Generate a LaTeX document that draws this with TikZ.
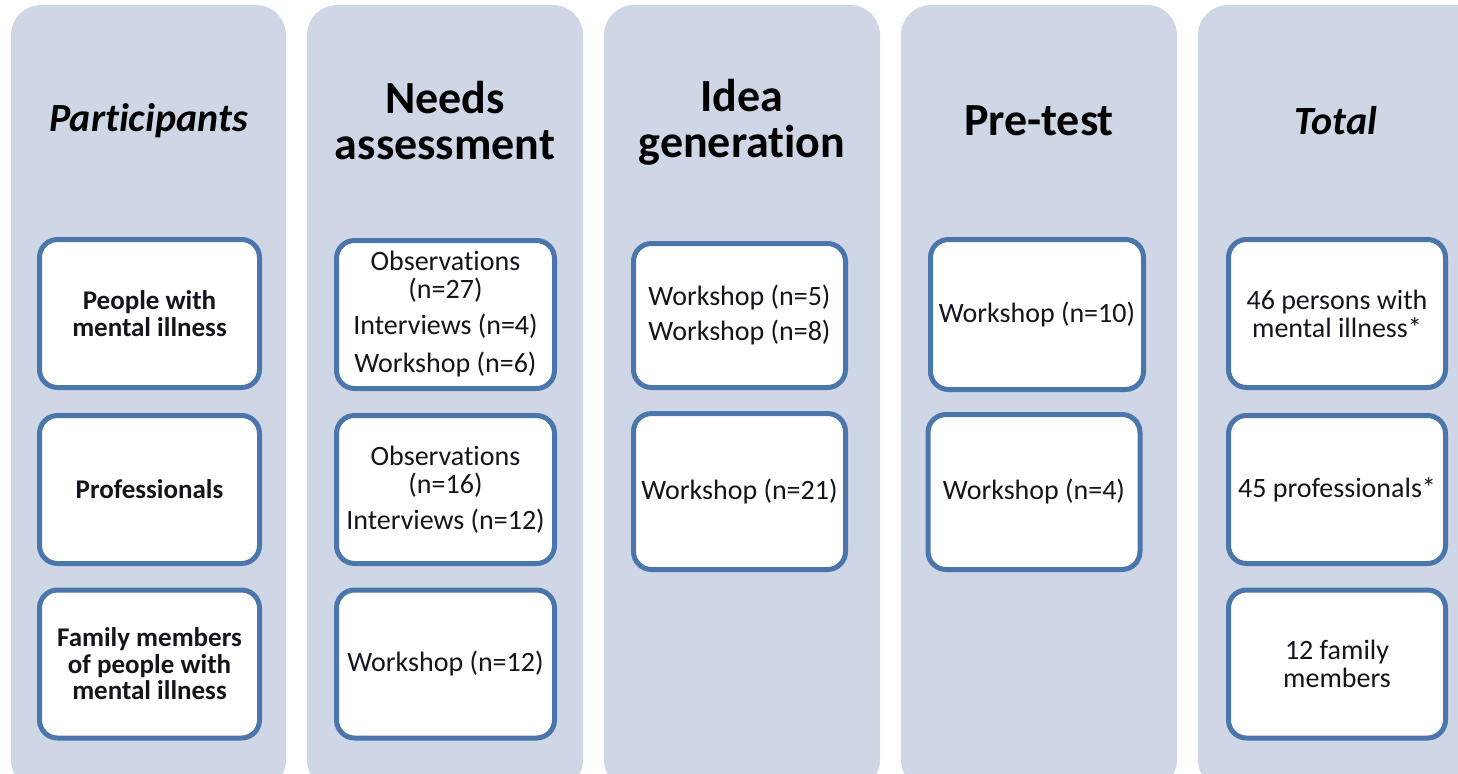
\documentclass[tikz,border=0pt]{standalone}
\usepackage{fontspec}
\setmainfont{Carlito}[Ligatures=NoCommon]
\definecolor{panelfill}{RGB}{207,215,230}
\definecolor{boxblue}{RGB}{74,118,172}
\definecolor{txt}{RGB}{20,20,30}
\tikzset{
  panel/.style={fill=panelfill, rounded corners=15pt},
  cell/.style={draw=boxblue, line width=2.5pt, fill=white, rounded corners=9pt,
    align=center, inner sep=0pt, text=txt, font=\fontsize{14}{14}\selectfont},
  boldcell/.style={cell, font=\fontsize{13.5}{13.3}\selectfont\bfseries},
  title/.style={align=center, inner sep=0pt, text=black, font=\fontsize{23}{23}\selectfont\bfseries},
  ititle/.style={align=center, inner sep=0pt, text=black, font=\fontsize{20}{20}\selectfont\bfseries\itshape}
}
\begin{document}
\begin{tikzpicture}[x=0.5pt,y=-0.5pt]
\useasboundingbox (0,0) rectangle (1458,773);
\begin{scope}
\clip (0,0) rectangle (1458,773);
\fill[panel] (11,5) rectangle (286,790);
\fill[panel] (307,5) rectangle (583,790);
\fill[panel] (604,5) rectangle (880,790);
\fill[panel] (901,5) rectangle (1177,790);
\fill[panel] (1198,5) rectangle (1490,790);
\end{scope}

% titles
\node[ititle] (t1) at (148.5,121) {Participants};
\node[title] (t2) at (445,121) {Needs\\assessment};
\node[title] (t3) at (742,122) {Idea\\generation};
\node[title] (t4) at (1039,121) {Pre-test};
\node[ititle] (t5) at (1336,121) {Total};

% column 1
\node[boldcell, minimum width=110pt, minimum height=74pt] (b11) at (149.5,313.5) {People with\\mental illness};
\node[boldcell, minimum width=110pt, minimum height=74pt] (b12) at (149.5,489.5) {Professionals};
\node[boldcell, minimum width=110pt, minimum height=74pt] (b13) at (149.5,664) {Family members\\of people with\\mental illness};

% column 2
\node[cell, minimum width=109pt, minimum height=74pt] (b21) at (445.5,314.5) {Observations\\(n=27)\\[4pt]Interviews (n=4)\\[5pt]Workshop (n=6)};
\node[cell, minimum width=109pt, minimum height=74pt] (b22) at (445.5,489.5) {Observations\\(n=16)\\[4pt]Interviews (n=12)};
\node[cell, minimum width=109pt, minimum height=74pt] (b23) at (445.5,664) {Workshop (n=12)};

% column 3
\node[cell, minimum width=106pt, minimum height=72pt] (b31) at (739.5,315.5) {Workshop (n=5)\\[3.5pt]Workshop (n=8)};
\node[cell, minimum width=106pt, minimum height=78pt] (b32) at (739.5,491.5) {Workshop (n=21)};

% column 4
\node[cell, minimum width=106.5pt, minimum height=75pt] (b41) at (1037,314.5) {Workshop (n=10)};
\node[cell, minimum width=106pt, minimum height=77.5pt] (b42) at (1034,492) {Workshop (n=4)};

% column 5
\node[cell, minimum width=108.5pt, minimum height=74pt] (b51) at (1337,313.5) {46 persons with\\mental illness*};
\node[cell, minimum width=108.5pt, minimum height=74pt] (b52) at (1337,489.5) {45 professionals*};
\node[cell, minimum width=108.5pt, minimum height=74pt] (b53) at (1337,664) {12 family\\members};
\end{tikzpicture}
\end{document}
